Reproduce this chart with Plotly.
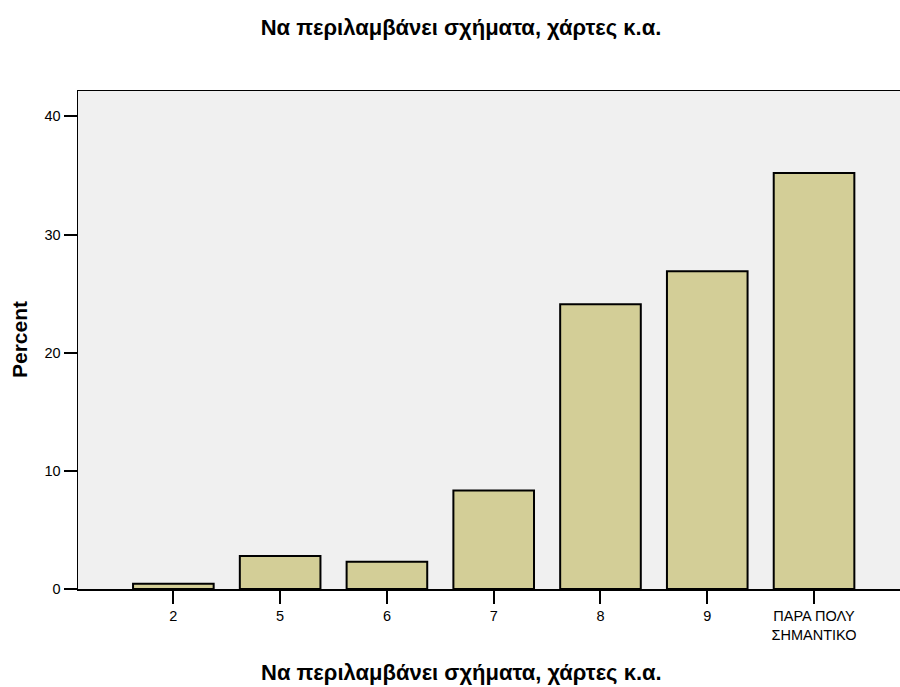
import plotly.graph_objects as go

categories = ["2", "5", "6", "7", "8", "9", "ΠΑΡΑ ΠΟΛΥ<br>ΣΗΜΑΝΤΙΚΟ"]
percent = [0.45, 2.8, 2.3, 8.33, 24.1, 26.9, 35.2]
title_text = "Να περιλαμβάνει σχήματα, χάρτες κ.α."
y_title = "Percent"
y_ticks = [0, 10, 20, 30, 40]

font_family = "Liberation Sans, Arial, sans-serif"

fig = go.Figure(
    go.Bar(
        x=list(range(len(categories))),
        y=percent,
        width=0.755,
        marker=dict(color="#D3CE97", line=dict(color="black", width=2)),
        hoverinfo="skip",
    )
)

fig.update_layout(
    width=900,
    height=687,
    margin=dict(l=78, r=0, t=91, b=98, autoexpand=False),
    paper_bgcolor="white",
    plot_bgcolor="#F0F0F0",
    font=dict(family=font_family, size=14.5, color="black"),
    title=dict(
        text=title_text,
        x=461 / 900, xanchor="center", xref="container",
        y=1 - 27 / 687, yanchor="middle", yref="container",
        font=dict(family=font_family, size=22, color="black", weight="bold"),
    ),
    showlegend=False,
    bargap=0,
    annotations=[
        dict(
            text=title_text, xref="paper", yref="paper",
            x=(461 - 78) / 822, y=0, xanchor="center", yanchor="middle",
            yshift=-83, showarrow=False,
            font=dict(family=font_family, size=22, color="black", weight="bold"),
        ),
        dict(
            text=y_title, xref="paper", yref="paper",
            x=0, y=0.5, xanchor="center", yanchor="middle",
            xshift=-59, textangle=-90, showarrow=False,
            font=dict(family=font_family, size=21, color="black", weight="bold"),
        ),
    ],
)

fig.update_xaxes(
    range=[-0.893, 6.805],
    tickmode="array",
    tickvals=list(range(len(categories))),
    ticktext=categories,
    ticks="outside",
    ticklen=13,
    tickwidth=2,
    tickcolor="black",
    showline=True,
    linecolor="black",
    linewidth=1.5,
    mirror=True,
    showgrid=False,
    zeroline=False,
)

fig.update_yaxes(
    range=[0, 42.15],
    tickmode="array",
    tickvals=y_ticks,
    ticks="outside",
    ticklen=13,
    tickwidth=2,
    tickcolor="black",
    showline=True,
    linecolor="black",
    linewidth=1.5,
    mirror=True,
    showgrid=False,
    zeroline=False,
)

fig.write_html(
    "out.html",
    config={"displayModeBar": False, "staticPlot": True},
    post_script="document.body.style.margin='0';document.body.style.overflow='hidden';",
)
